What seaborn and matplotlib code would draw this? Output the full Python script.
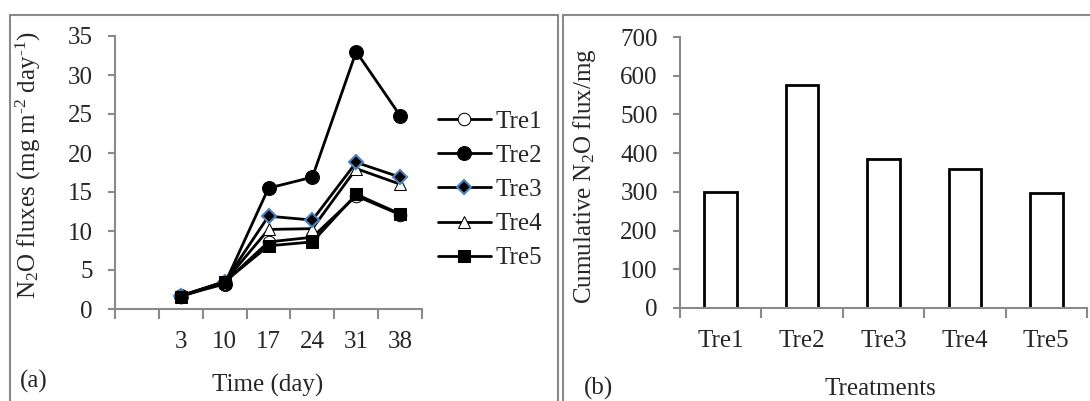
import matplotlib
matplotlib.use("Agg")
import matplotlib.pyplot as plt
from matplotlib.patches import Rectangle
from matplotlib.ticker import FixedLocator
import seaborn as sns

# Panel (a): N2O fluxes over time
days = ["3", "10", "17", "24", "31", "38"]
tre1 = [1.6, 3.4, 8.6, 9.2, 14.5, 12.1]
tre2 = [1.7, 3.2, 15.5, 16.9, 33.0, 24.8]
tre3 = [1.7, 3.5, 11.9, 11.4, 18.8, 16.9]
tre4 = [1.7, 3.5, 10.2, 10.3, 18.0, 16.0]
tre5 = [1.6, 3.5, 8.1, 8.6, 14.7, 12.2]

# Panel (b): cumulative flux
treatments = ["Tre1", "Tre2", "Tre3", "Tre4", "Tre5"]
cumulative = [300, 575, 385, 358, 296]

sns.set_style("white")
plt.rcParams["font.family"] = ["Liberation Serif", "DejaVu Serif"]
plt.rcParams["mathtext.default"] = "regular"
plt.rcParams["font.size"] = 18

GRAY = "#8a8a8a"

fig = plt.figure(figsize=(10.9, 4.01), dpi=100)

# panel frames
fig.patches.append(Rectangle((10 / 1090, -0.2), 548 / 1090, 1.2 - 15 / 401,
                             transform=fig.transFigure, fill=False,
                             edgecolor=GRAY, linewidth=1.5))
fig.patches.append(Rectangle((563 / 1090, -0.2), 0.6, 1.2 - 15 / 401,
                             transform=fig.transFigure, fill=False,
                             edgecolor=GRAY, linewidth=1.5))

ax1 = fig.add_axes([115 / 1090, 1 - 309 / 401, 307 / 1090, 273 / 401])
ax2 = fig.add_axes([680 / 1090, 1 - 308 / 401, 407 / 1090, 271 / 401])

xpos = list(range(1, len(days) + 1))
styles = [
    ("Tre1", tre1, dict(marker="o", markerfacecolor="white", markeredgecolor="black", markersize=9), 3),
    ("Tre2", tre2, dict(marker="o", markerfacecolor="black", markeredgecolor="black", markersize=10), 4),
    ("Tre3", tre3, dict(marker="D", markerfacecolor="black", markeredgecolor="#4F81BD", markeredgewidth=1.5, markersize=7), 6),
    ("Tre4", tre4, dict(marker="^", markerfacecolor="white", markeredgecolor="black", markersize=9), 5),
    ("Tre5", tre5, dict(marker="s", markerfacecolor="black", markeredgecolor="black", markersize=9), 7),
]
for name, vals, mk, z in styles:
    sns.lineplot(x=xpos, y=vals, ax=ax1, color="black", linewidth=2,
                 label=name, zorder=z, **mk)

ax1.set_xlim(-0.5, len(days) + 0.5)
ax1.set_ylim(0, 35)
ax1.set_yticks(range(0, 36, 5))
ax1.xaxis.set_major_locator(FixedLocator([i - 0.5 for i in range(len(days) + 2)]))
ax1.set_xticklabels([])
ax1.xaxis.set_minor_locator(FixedLocator(xpos))
ax1.set_xticklabels(days, minor=True)
ax1.set_xlabel("")
ax1.set_ylabel("")

handles, labels = ax1.get_legend_handles_labels()
ax1.legend(handles, labels, loc="upper left", bbox_to_anchor=(438 / 1090, 1 - 110 / 401),
           bbox_transform=fig.transFigure, frameon=False, handlelength=2.1,
           handletextpad=0.2, labelspacing=0.47, borderpad=0, borderaxespad=0)

sns.barplot(x=treatments, y=cumulative, ax=ax2, color="white",
            edgecolor="black", linewidth=2, width=0.4, saturation=1)
ax2.set_xlim(-0.5, len(treatments) - 0.5)
ax2.set_ylim(0, 700)
ax2.set_yticks(range(0, 701, 100))
ax2.xaxis.set_major_locator(FixedLocator([i - 0.5 for i in range(len(treatments) + 1)]))
ax2.set_xticklabels([])
ax2.xaxis.set_minor_locator(FixedLocator(range(len(treatments))))
ax2.set_xticklabels(treatments, minor=True)
ax2.set_xlabel("")
ax2.set_ylabel("")

for ax in (ax1, ax2):
    sns.despine(ax=ax)
    for side in ("left", "bottom"):
        ax.spines[side].set_color(GRAY)
        ax.spines[side].set_linewidth(1.5)
    ax.tick_params(axis="y", which="major", direction="out", length=5, width=1.5,
                   color=GRAY, left=True, pad=11, labelsize=18)
    ax.tick_params(axis="x", which="major", direction="out", length=7, width=1.5,
                   color=GRAY, bottom=True)
    ax.tick_params(axis="x", which="minor", length=0, pad=16, labelsize=18)
    ax.set_facecolor("none")

fig.text(28 / 1090, 1 - 165 / 401, "N$_2$O fluxes (mg m$^{\u20102}$ day$^{\u20101}$)",
         rotation=90, ha="center", va="center", fontsize=18)
fig.text(585 / 1090, 1 - 176 / 401, "Cumulative N$_2$O flux/mg",
         rotation=90, ha="center", va="center", fontsize=18)
fig.text(268 / 1090, 1 - 385 / 401, "Time (day)", ha="center", va="center", fontsize=18)
fig.text(880 / 1090, 1 - 389 / 401, "Treatments", ha="center", va="center", fontsize=18)
fig.text(34 / 1090, 1 - 381 / 401, "(a)", ha="center", va="center", fontsize=18)
fig.text(599 / 1090, 1 - 388 / 401, "(b)", ha="center", va="center", fontsize=18)

fig.savefig("out.png", dpi=100)
